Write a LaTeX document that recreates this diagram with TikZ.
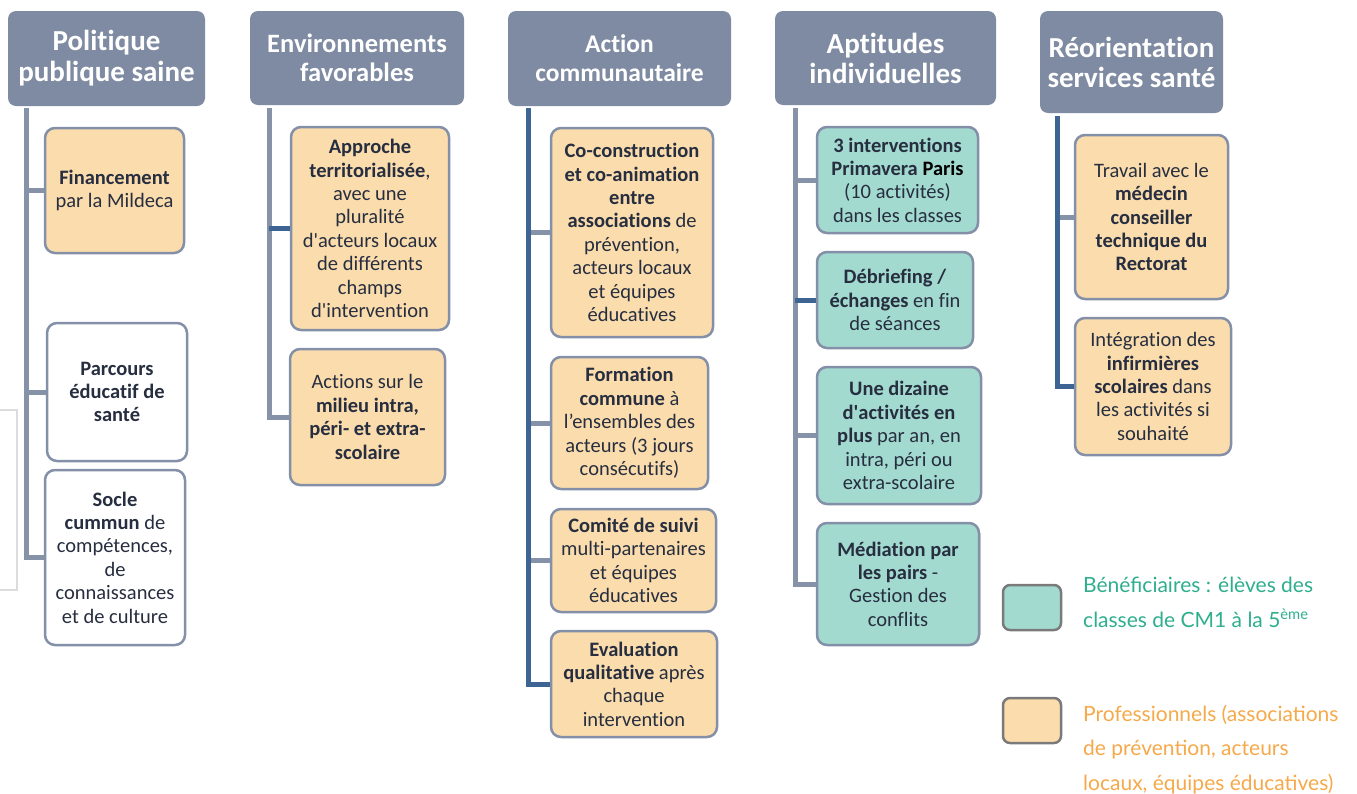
\documentclass[tikz,border=0pt]{standalone}
\usepackage{fontspec}
\setmainfont{Carlito}[Ligatures=NoCommon]
\newfontfamily\legfont{Lato}
\definecolor{hdr}{HTML}{7F8BA2}
\definecolor{bord}{HTML}{8390A7}
\definecolor{gline}{HTML}{8592A8}
\definecolor{bline}{HTML}{3E6494}
\definecolor{txt}{HTML}{262E40}
\definecolor{orf}{HTML}{FBDCAC}
\definecolor{tef}{HTML}{A3DACF}
\definecolor{legt}{HTML}{2EAE8D}
\definecolor{lego}{HTML}{F5A94A}
\definecolor{legb}{HTML}{7A7A7A}
\definecolor{faint}{HTML}{DCDCDC}
\newcommand{\apos}{\textquotesingle}
\begin{document}
\begin{tikzpicture}[x=1pt,y=-1pt,
  hdrbox/.style={fill=hdr, rounded corners=8pt, text=white, align=center, inner sep=0pt, font=\bfseries},
  box/.style={draw=bord, line width=2.5pt, rounded corners=10pt, align=center, inner sep=0pt, text=txt,
     font=\fontsize{20.5}{23.4}\selectfont},
  orbox/.style={box, fill=orf},
  tebox/.style={box, fill=tef},
  whbox/.style={box, fill=white},
  gl/.style={draw=gline, line width=5pt},
  bl/.style={draw=bline, line width=5pt},
  legbox/.style={draw=legb, line width=2.5pt, rounded corners=7pt, minimum width=58pt, minimum height=45pt, inner sep=0pt},
  legtext/.style={anchor=west, align=left, inner sep=0pt, font=\legfont\fontsize{21}{34.5}\selectfont}
]
\useasboundingbox (0,0) rectangle (1357,793);
% faint fragments
\draw[faint, line width=1.2pt] (-5,410) rectangle (17,590);
\draw[faint, line width=1.2pt] (980,533) -- (980,635);

% headers
\node[hdrbox, minimum width=197pt, minimum height=95pt, font=\bfseries\fontsize{29}{31}\selectfont] (h1) at (106.5,58.5) {Politique\\publique saine};
\node[hdrbox, minimum width=214pt, minimum height=94pt, font=\bfseries\fontsize{26.5}{29}\selectfont] (h2) at (357,58) {Environnements\\favorables};
\node[hdrbox, minimum width=223pt, minimum height=95pt, font=\bfseries\fontsize{25.5}{29}\selectfont] (h3) at (619.5,58.5) {Action\\communautaire};
\node[hdrbox, minimum width=221pt, minimum height=94pt, font=\bfseries\fontsize{29}{30}\selectfont] (h4) at (885.5,58) {Aptitudes\\individuelles};
\node[hdrbox, minimum width=183pt, minimum height=102pt, font=\bfseries\fontsize{29}{30}\selectfont] (h5) at (1131.5,62) {Réorientation\\services santé};

% column 1
\node[orbox, minimum width=139pt, minimum height=125pt] (b11) at (114.5,190.5) {\textbf{Financement}\\par la Mildeca};
\node[whbox, minimum width=140pt, minimum height=138pt] (b12) at (117,392) {\textbf{Parcours}\\\textbf{éducatif de}\\\textbf{santé}};
\node[whbox, minimum width=140pt, minimum height=175pt] (b13) at (115,557.5) {\textbf{Socle}\\\textbf{cummun} de\\compétences,\\de\\connaissances\\et de culture};

% column 2
\node[orbox, minimum width=158pt, minimum height=203pt] (b21) at (370,228.5) {\textbf{Approche}\\\textbf{territorialisée},\\avec une\\pluralité\\d\apos acteurs locaux\\de différents\\champs\\d\apos intervention};
\node[orbox, minimum width=155pt, minimum height=136pt] (b22) at (367.5,417) {Actions sur le\\\textbf{milieu intra,}\\\textbf{péri- et extra-}\\\textbf{scolaire}};

% column 3
\node[orbox, minimum width=162pt, minimum height=209pt] (b31) at (632,232.5) {\textbf{Co-construction}\\\textbf{et co-animation}\\\textbf{entre}\\\textbf{associations} de\\prévention,\\acteurs locaux\\et équipes\\éducatives};
\node[orbox, minimum width=157pt, minimum height=132pt] (b32) at (629.5,423) {\textbf{Formation}\\\textbf{commune} à\\l’ensembles des\\acteurs (3 jours\\consécutifs)};
\node[orbox, minimum width=165pt, minimum height=103pt] (b33) at (633.5,560.5) {\textbf{Comité de suivi}\\multi-partenaires\\et équipes\\éducatives};
\node[orbox, minimum width=166pt, minimum height=106pt] (b34) at (634,684) {\textbf{Evaluation}\\\textbf{qualitative} après\\chaque\\intervention};

% column 4
\node[tebox, minimum width=161pt, minimum height=106pt] (b41) at (897.5,180) {\textbf{3 interventions}\\\textbf{Primavera \textcolor{black}{Paris}}\\(10 activités)\\dans les classes};
\node[tebox, minimum width=156pt, minimum height=96pt] (b42) at (895,300) {\textbf{Débriefing /}\\\textbf{échanges} en fin\\de séances};
\node[tebox, minimum width=164pt, minimum height=137pt] (b43) at (899,435.5) {\textbf{Une dizaine}\\\textbf{d\apos activités en}\\\textbf{plus} par an, en\\intra, péri ou\\extra-scolaire};
\node[tebox, minimum width=162pt, minimum height=122pt] (b44) at (898,584) {\textbf{Médiation par}\\\textbf{les pairs} -\\Gestion des\\conflits};

% column 5
\node[orbox, minimum width=153pt, minimum height=164pt] (b51) at (1151.5,217) {Travail avec le\\\textbf{médecin}\\\textbf{conseiller}\\\textbf{technique du}\\\textbf{Rectorat}};
\node[orbox, minimum width=156pt, minimum height=137pt] (b52) at (1153,386.5) {Intégration des\\\textbf{infirmières}\\\textbf{scolaires} dans\\les activités si\\souhaité};

% trunk start points
\coordinate (v1) at (26,108);
\coordinate (v2) at (269,108);
\coordinate (v3) at (528,108);
\coordinate (v4) at (795,108);
\coordinate (v5) at (1057,116);

% connectors column 1
\draw[gl] (v1 |- b11.west) -- (b11.west);
\draw[gl] (v1 |- b12.west) -- (b12.west);
\draw[gl] (v1) |- (b13.west);
% column 2
\draw[gl] (v2) |- (b22.west);
\draw[bl] (v2 |- b21.west) -- (b21.west);
% column 3
\draw[gl] (v3 |- b31.west) -- (b31.west);
\draw[gl] (v3 |- b32.west) -- (b32.west);
\draw[gl] (v3 |- b33.west) -- (b33.west);
\draw[bl] (v3) |- (b34.west);
% column 4
\draw[gl] (v4 |- b41.west) -- (b41.west);
\draw[gl] (v4 |- b43.west) -- (b43.west);
\draw[gl] (v4) |- (b44.west);
\draw[bl] (v4 |- b42.west) -- (b42.west);
% column 5
\draw[gl] (v5 |- b51.west) -- (b51.west);
\draw[bl] (v5) |- (b52.west);

% legend
\node[legbox, fill=tef] (l1) at (1032,607.5) {};
\node[legbox, fill=orf] (l2) at (1032,720.5) {};
\node[legtext, text=legt] (l1t) at (1083,602.5) {Bénéficiaires : élèves des\\classes de CM1 à la 5\textsuperscript{ème}};
\node[legtext, text=lego] (l2t) at (1083,749.5) {Professionnels (associations\\de prévention, acteurs\\locaux, équipes éducatives)};
\end{tikzpicture}
\end{document}
